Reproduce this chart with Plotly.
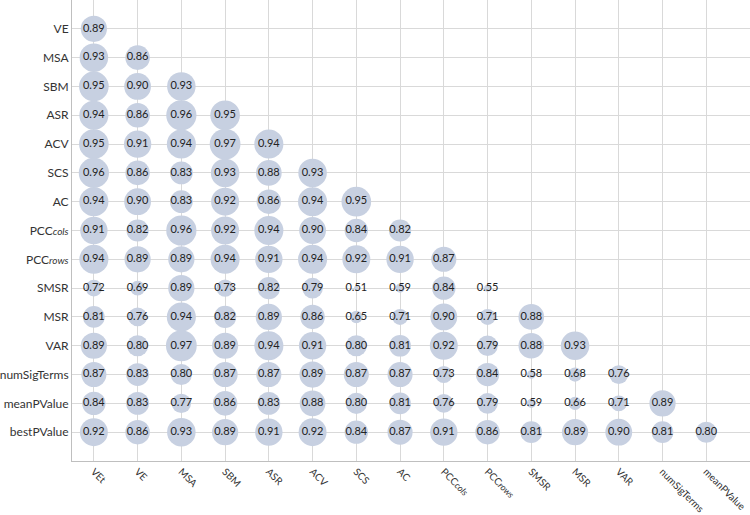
import plotly.graph_objects as go

# Lower-triangular correlation table
col_labels = ["VEt", "VE", "MSA", "SBM", "ASR", "ACV", "SCS", "AC",
              "PCC<i><span style='font-size:9px'>cols</span></i>",
              "PCC<i><span style='font-size:9px'>rows</span></i>",
              "SMSR", "MSR", "VAR", "numSigTerms", "meanPValue"]
row_labels = ["VE", "MSA", "SBM", "ASR", "ACV", "SCS", "AC",
              "PCC<i><span style='font-size:10px'>cols</span></i>",
              "PCC<i><span style='font-size:10px'>rows</span></i>",
              "SMSR", "MSR", "VAR", "numSigTerms", "meanPValue", "bestPValue"]

r_VE = [0.89]
r_MSA = [0.93, 0.86]
r_SBM = [0.95, 0.90, 0.93]
r_ASR = [0.94, 0.86, 0.96, 0.95]
r_ACV = [0.95, 0.91, 0.94, 0.97, 0.94]
r_SCS = [0.96, 0.86, 0.83, 0.93, 0.88, 0.93]
r_AC = [0.94, 0.90, 0.83, 0.92, 0.86, 0.94, 0.95]
r_PCCcols = [0.91, 0.82, 0.96, 0.92, 0.94, 0.90, 0.84, 0.82]
r_PCCrows = [0.94, 0.89, 0.89, 0.94, 0.91, 0.94, 0.92, 0.91, 0.87]
r_SMSR = [0.72, 0.69, 0.89, 0.73, 0.82, 0.79, 0.51, 0.59, 0.84, 0.55]
r_MSR = [0.81, 0.76, 0.94, 0.82, 0.89, 0.86, 0.65, 0.71, 0.90, 0.71, 0.88]
r_VAR = [0.89, 0.80, 0.97, 0.89, 0.94, 0.91, 0.80, 0.81, 0.92, 0.79, 0.88, 0.93]
r_numSigTerms = [0.87, 0.83, 0.80, 0.87, 0.87, 0.89, 0.87, 0.87, 0.73, 0.84, 0.58, 0.68, 0.76]
r_meanPValue = [0.84, 0.83, 0.77, 0.86, 0.83, 0.88, 0.80, 0.81, 0.76, 0.79, 0.59, 0.66, 0.71, 0.89]
r_bestPValue = [0.92, 0.86, 0.93, 0.89, 0.91, 0.92, 0.84, 0.87, 0.91, 0.86, 0.81, 0.89, 0.90, 0.81, 0.80]

rows = [r_VE, r_MSA, r_SBM, r_ASR, r_ACV, r_SCS, r_AC, r_PCCcols, r_PCCrows,
        r_SMSR, r_MSR, r_VAR, r_numSigTerms, r_meanPValue, r_bestPValue]

n_rows = len(row_labels)
xs, ys, vals = [], [], []
for i, row in enumerate(rows):
    for j, v in enumerate(row):
        xs.append(j + 1)
        ys.append(n_rows - i)
        vals.append(v)

# bubble diameter grows linearly with the correlation
sizes = [57 * (v - 0.43) for v in vals]

FONT = "Lato, 'Open Sans', sans-serif"
GRID = "#d9d9d9"

fig = go.Figure()
fig.add_trace(go.Scatter(
    x=xs, y=ys, mode="markers+text",
    marker=dict(size=sizes, sizemode="diameter", color="#c7d0e1",
                line=dict(width=0), opacity=1),
    text=[f"{v:.2f}" for v in vals],
    textposition="middle center",
    textfont=dict(size=11, color="#222222", family=FONT),
    hoverinfo="skip", cliponaxis=False,
))

fig.update_layout(
    width=750, height=515,
    margin=dict(l=72, r=0, t=0, b=54),
    paper_bgcolor="white", plot_bgcolor="white",
    showlegend=False,
    font=dict(family=FONT, size=11, color="#333333"),
)
fig.update_xaxes(
    range=[0.5, 16], tickvals=list(range(1, 17)),
    ticktext=col_labels + [""], tickangle=45, automargin=False,
    ticklabeloverflow="allow",
    showgrid=True, gridcolor=GRID, gridwidth=1, zeroline=False,
    showline=True, linecolor="#bfbfbf", linewidth=1,
    ticks="", tickfont=dict(size=10, color="#333333"),
)
fig.update_yaxes(
    range=[0, 16], tickvals=list(range(0, 17)),
    ticktext=[""] + row_labels[::-1] + [""], automargin=False,
    showgrid=True, gridcolor=GRID, gridwidth=1, zeroline=False,
    showline=True, linecolor="#bfbfbf", linewidth=1,
    ticks="", tickfont=dict(size=12, color="#333333"),
)

# drop the browser's default page margin so the figure sits at the corner
fig.write_html("out.html", config={"displayModeBar": False},
               post_script="document.body.style.margin='0';")
